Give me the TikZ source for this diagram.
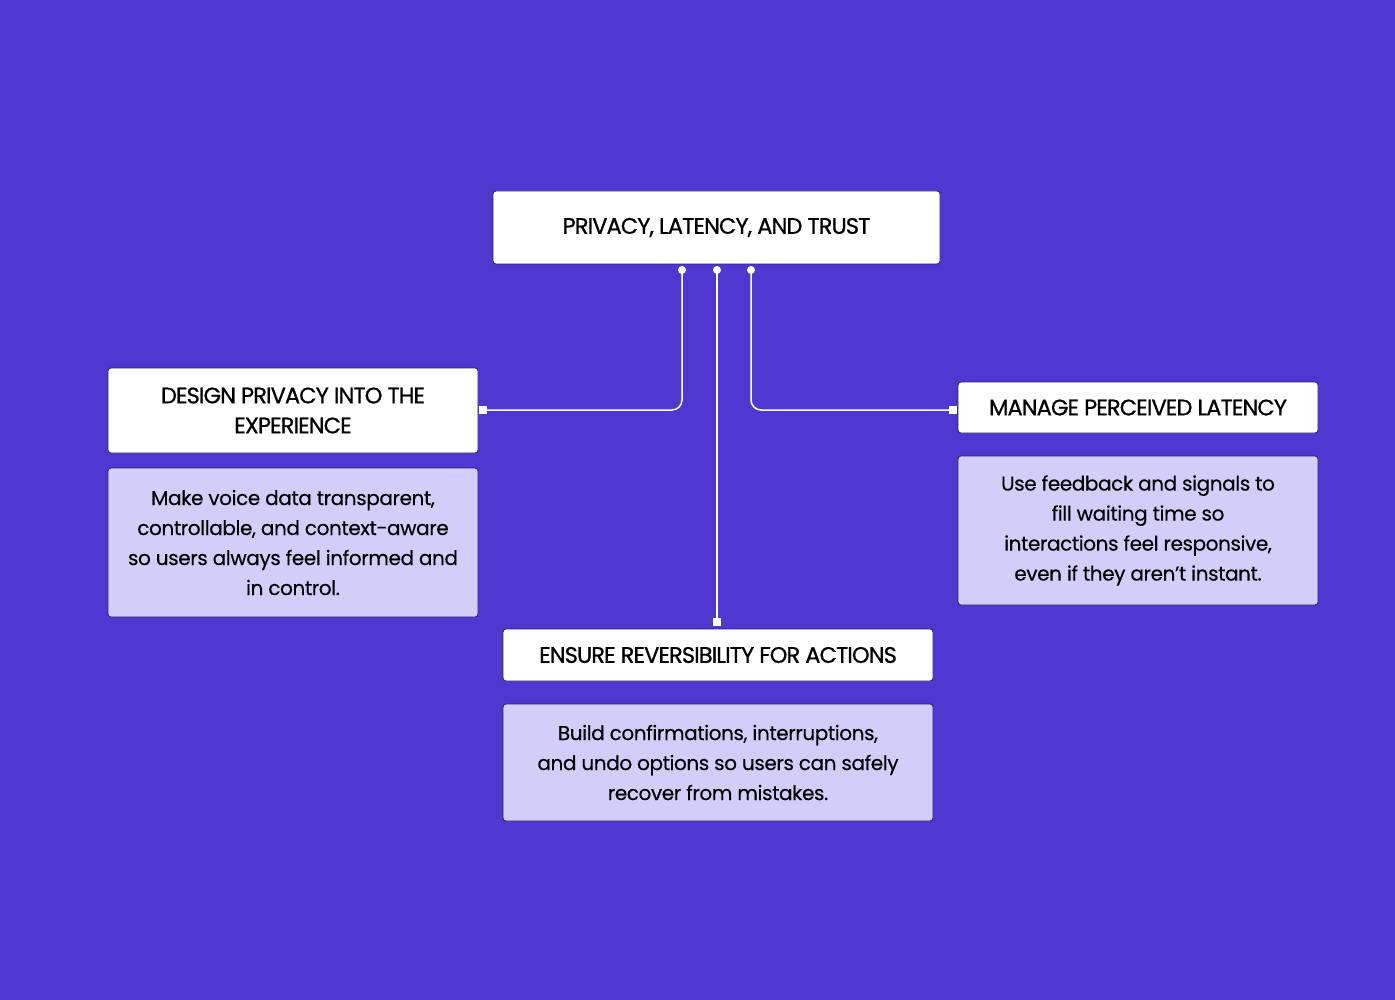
\documentclass[tikz,border=0pt]{standalone}
\usepackage{fontspec}
\setmainfont{Poppins}
\newfontfamily\ttlfont[FakeBold=0.8,LetterSpace=-4]{Poppins}
\newfontfamily\dscfont[FakeBold=0.3,LetterSpace=-2]{Poppins}
\definecolor{bg}{HTML}{4F37D2}
\definecolor{lav}{HTML}{D3CDFA}
\definecolor{edge}{HTML}{2A2060}
\begin{document}
\begin{tikzpicture}[x=1pt,y=-1pt,
 titlebox/.style={draw=edge,fill=white,rounded corners=3pt,line width=0.8pt,align=center,font=\ttlfont\fontsize{22.5}{30}\selectfont,text=black},
 descbox/.style={draw=edge,fill=lav,rounded corners=3pt,line width=0.8pt,align=center,font=\dscfont\fontsize{20}{30}\selectfont,text=black},
 wire/.style={draw=white,line width=1.5pt,rounded corners=10pt},
 dot/.style={circle,fill=white,inner sep=0pt,minimum size=8pt},
 sq/.style={rectangle,fill=white,inner sep=0pt,minimum size=8pt}]
\fill[bg] (0,0) rectangle (1395,1000);
\useasboundingbox (0,0) rectangle (1395,1000);
\node[titlebox,minimum width=447pt,minimum height=73pt] (top) at (716.5,227.5) {PRIVACY, LATENCY, AND TRUST};
\node[titlebox,minimum width=370pt,minimum height=85pt] (lt) at (293,410.5) {DESIGN PRIVACY INTO THE\\EXPERIENCE};
\node[descbox,minimum width=370pt,minimum height=149pt] (ld) at (293,542.5) {Make voice data transparent,\\controllable, and context-aware\\so users always feel informed and\\in control.};
\node[titlebox,minimum width=360pt,minimum height=51pt] (rt) at (1138,407.5) {MANAGE PERCEIVED LATENCY};
\node[descbox,minimum width=360pt,minimum height=149pt] (rd) at (1138,530.5) {Use feedback and signals to\\fill waiting time so\\interactions feel responsive,\\even if they aren’t instant.};
\node[titlebox,minimum width=430pt,minimum height=52pt] (bt) at (718,655) {ENSURE REVERSIBILITY FOR ACTIONS};
\node[descbox,minimum width=430pt,minimum height=117pt] (bd) at (718,762.5) {Build confirmations, interruptions,\\and undo options so users can safely\\recover from mistakes.};
\node[dot] (d1) at (682,270) {};
\node[dot] (d2) at (717,270) {};
\node[dot] (d3) at (751,270) {};
\node[sq] (s1) at (483,410) {};
\node[sq] (s2) at (953,410) {};
\node[sq] (s3) at (717,622) {};
\draw[wire] (d1.center) |- (s1.center);
\draw[wire] (d3.center) |- (s2.center);
\draw[wire] (d2.center) -- (s3.center);
\end{tikzpicture}
\end{document}
